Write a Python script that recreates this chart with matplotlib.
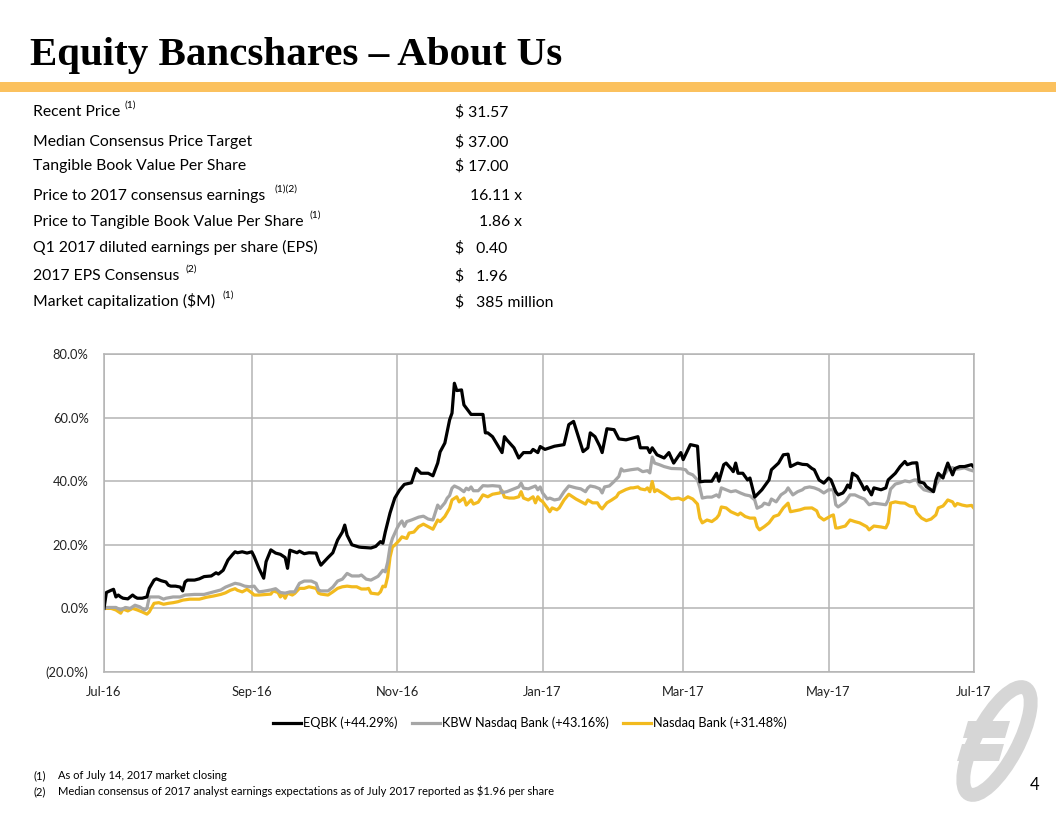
import matplotlib
matplotlib.use("Agg")
import matplotlib.pyplot as plt
import matplotlib.dates as mdates
from matplotlib.patches import Ellipse, Polygon, Rectangle
from matplotlib.lines import Line2D
from matplotlib.ticker import FuncFormatter
import pandas as pd

# ---------------- data ----------------
START = "2016-07-14"
END = "2017-07-14"
tick_dates = ["2016-07-14", "2016-09-14", "2016-11-14", "2017-01-14",
              "2017-03-14", "2017-05-14", "2017-07-14"]
y_ticks = [-20, 0, 20, 40, 60, 80]

# days since START, cumulative return in %
eqbk_day = [0, 1, 3, 4, 5, 6, 7, 8, 10, 12, 13, 14, 16, 18, 19, 21, 22, 24, 26, 27,
            28, 30, 32, 33, 34, 35, 38, 40, 42, 45, 47, 48, 50, 52, 54, 55, 56, 58, 60, 62,
            63, 65, 67, 68, 70, 72, 74, 76, 77, 78, 81, 82, 84, 86, 89, 90, 91, 94, 96, 98,
            100, 101, 102, 104, 107, 108, 112, 114, 116, 117, 118, 120, 122, 124, 126, 129, 131, 133, 136, 138,
            140, 141, 143, 145, 146, 147, 148, 150, 151, 153, 154, 156, 159, 160, 161, 163, 165, 167, 168, 169,
            172, 174, 176, 179, 180, 182, 183, 185, 187, 189, 193, 195, 197, 199, 201, 203, 204, 206, 208, 209,
            211, 214, 216, 219, 222, 224, 225, 228, 229, 230, 232, 235, 237, 239, 242, 243, 246, 249, 250, 252,
            255, 257, 258, 260, 261, 263, 264, 265, 266, 268, 270, 271, 273, 276, 279, 280, 283, 285, 287, 288,
            291, 293, 295, 297, 298, 300, 302, 304, 305, 307, 308, 310, 311, 312, 313, 314, 316, 318, 319, 320,
            322, 323, 326, 328, 329, 332, 334, 336, 337, 339, 341, 342, 344, 345, 347, 348, 349, 350, 352, 353,
            354, 356, 357, 359, 361, 364, 365]
eqbk_pct = [0.0, 5.0, 5.7, 6.0, 3.6, 4.2, 3.6, 3.2, 3.0, 4.2, 3.6, 3.2, 3.2, 3.6, 6.3, 8.9, 9.3, 8.7, 8.3, 7.3,
            7.0, 7.0, 6.7, 5.5, 8.3, 8.9, 8.9, 9.3, 10.0, 10.2, 11.2, 10.8, 12.0, 15.2, 17.0, 17.8, 17.5, 17.8, 17.4, 17.8,
            16.3, 12.6, 9.5, 14.7, 18.4, 17.4, 17.0, 16.0, 12.6, 18.3, 17.5, 18.0, 17.2, 17.5, 17.4, 15.2, 13.6, 16.0, 17.5, 21.5,
            24.0, 26.2, 23.0, 20.0, 19.3, 19.2, 19.0, 19.5, 21.0, 20.5, 24.0, 30.0, 34.7, 37.2, 39.0, 39.5, 44.0, 42.5, 42.5, 41.7,
            45.7, 49.2, 52.0, 59.3, 61.4, 70.8, 68.5, 68.7, 64.0, 62.0, 61.0, 61.0, 61.0, 55.2, 55.2, 54.0, 51.5, 49.0, 54.0, 53.0,
            50.5, 47.3, 49.0, 49.0, 50.0, 49.0, 50.9, 50.0, 50.5, 51.0, 51.5, 57.8, 58.8, 54.0, 49.3, 50.5, 55.2, 54.0, 51.0, 49.0,
            56.5, 56.2, 53.3, 53.0, 53.6, 54.0, 50.5, 50.5, 49.0, 50.5, 48.3, 47.3, 49.0, 45.7, 49.0, 46.8, 51.5, 51.0, 39.8, 40.0,
            40.0, 42.5, 40.0, 45.2, 45.7, 44.0, 43.0, 45.7, 42.5, 42.5, 40.4, 41.0, 35.0, 37.3, 40.4, 43.6, 45.7, 48.3, 48.5, 44.6,
            45.7, 45.3, 45.2, 44.0, 43.6, 40.4, 39.4, 41.0, 40.4, 36.7, 35.7, 36.3, 37.3, 38.8, 37.9, 42.5, 41.5, 38.8, 37.3, 38.3,
            35.7, 37.9, 37.3, 37.9, 40.4, 42.5, 44.6, 46.2, 45.2, 45.7, 45.8, 39.8, 39.4, 38.3, 37.3, 36.7, 40.4, 42.5, 41.0, 43.6,
            45.7, 42.0, 44.0, 44.6, 44.6, 45.2, 44.29]

kbw_day = [0, 1, 5, 7, 9, 11, 13, 15, 17, 18, 19, 21, 23, 25, 26, 29, 32, 34, 38, 42,
           45, 49, 51, 53, 55, 57, 59, 61, 63, 64, 65, 67, 70, 72, 74, 76, 78, 80, 82, 84,
           87, 89, 90, 91, 94, 96, 98, 100, 102, 104, 107, 108, 110, 112, 115, 117, 118, 119, 120, 121,
           123, 124, 125, 126, 127, 129, 132, 134, 136, 138, 140, 141, 143, 144, 145, 146, 147, 149, 151, 152,
           153, 154, 155, 157, 159, 161, 163, 166, 167, 169, 172, 174, 175, 176, 178, 180, 181, 182, 183, 184,
           186, 187, 189, 191, 193, 195, 198, 200, 202, 203, 204, 206, 208, 209, 210, 212, 214, 216, 217, 218,
           221, 224, 226, 228, 229, 230, 231, 233, 235, 238, 242, 244, 245, 247, 249, 250, 251, 253, 255, 257,
           258, 259, 261, 263, 265, 267, 269, 271, 273, 274, 276, 277, 279, 280, 282, 284, 286, 287, 289, 291,
           293, 294, 296, 298, 300, 302, 304, 306, 307, 308, 311, 313, 315, 317, 319, 320, 321, 323, 326, 328,
           329, 330, 332, 334, 336, 338, 340, 341, 342, 344, 347, 348, 349, 351, 353, 354, 356, 357, 359, 361,
           363, 365]
kbw_pct = [0.0, 0.3, 0.3, -0.5, 0.3, 0.0, 1.0, 0.5, -0.5, 0.0, 3.6, 3.6, 3.6, 2.9, 3.2, 3.6, 3.6, 4.2, 4.4, 4.4,
           5.0, 5.8, 6.7, 7.3, 7.9, 7.6, 7.0, 6.8, 7.0, 6.0, 5.2, 5.4, 5.8, 6.2, 5.0, 4.8, 5.2, 5.2, 7.9, 8.6,
           8.6, 7.9, 5.8, 5.5, 5.5, 6.7, 8.6, 9.2, 11.0, 10.2, 10.2, 10.5, 9.2, 8.9, 10.1, 12.0, 11.5, 14.5, 19.4, 22.0,
           25.3, 26.6, 27.5, 25.8, 27.3, 27.8, 28.7, 29.0, 28.1, 27.8, 32.5, 31.4, 33.2, 34.7, 35.5, 37.8, 38.5, 37.8, 36.7, 37.8,
           37.3, 38.2, 37.0, 37.0, 38.6, 38.5, 38.6, 38.4, 36.4, 36.7, 37.6, 38.2, 39.4, 37.8, 37.6, 38.2, 38.5, 37.3, 38.2, 36.3,
           34.4, 34.7, 34.1, 34.4, 36.7, 38.5, 37.9, 37.6, 36.7, 37.9, 38.5, 38.2, 37.6, 36.3, 38.2, 38.5, 39.9, 41.5, 43.9, 43.2,
           43.6, 43.9, 43.0, 43.3, 42.6, 47.6, 45.7, 45.2, 44.6, 44.0, 43.9, 43.6, 42.6, 42.0, 40.4, 37.9, 34.7, 35.0, 35.0, 35.7,
           35.0, 37.9, 37.3, 36.7, 37.0, 36.3, 35.7, 35.4, 34.1, 31.5, 32.2, 33.1, 32.6, 34.4, 33.5, 35.7, 36.7, 37.9, 35.7, 36.7,
           37.3, 37.9, 38.2, 37.9, 37.3, 36.3, 37.3, 37.3, 32.6, 31.9, 33.5, 35.7, 35.7, 35.0, 34.4, 33.5, 32.6, 33.1, 32.8, 32.6,
           34.1, 37.5, 39.1, 39.5, 40.1, 39.8, 40.4, 40.4, 38.8, 37.3, 36.7, 36.8, 38.8, 41.5, 42.5, 43.6, 44.3, 43.7, 43.9, 44.2,
           43.6, 43.16]

nasdaq_day = [0, 1, 3, 5, 7, 8, 10, 12, 14, 16, 18, 19, 21, 23, 25, 27, 29, 31, 33, 36,
              40, 43, 46, 49, 51, 53, 55, 56, 58, 60, 62, 63, 65, 68, 70, 71, 73, 74, 75, 76,
              77, 79, 80, 82, 84, 86, 89, 90, 91, 94, 96, 98, 100, 102, 104, 106, 108, 110, 111, 112,
              115, 116, 117, 118, 119, 120, 121, 122, 124, 125, 127, 128, 130, 132, 134, 136, 138, 140, 141, 143,
              145, 146, 148, 149, 151, 152, 154, 155, 157, 159, 161, 163, 166, 167, 168, 170, 172, 174, 175, 176,
              178, 180, 181, 182, 183, 184, 186, 187, 188, 190, 191, 193, 195, 198, 200, 202, 203, 205, 207, 208,
              209, 211, 213, 215, 216, 219, 221, 222, 224, 225, 227, 228, 229, 230, 231, 232, 235, 238, 241, 243,
              245, 247, 249, 250, 251, 253, 255, 257, 258, 259, 261, 263, 266, 267, 269, 271, 273, 274, 275, 277,
              279, 281, 283, 285, 287, 288, 290, 292, 294, 297, 299, 300, 302, 305, 306, 307, 308, 311, 313, 315,
              317, 320, 321, 323, 326, 328, 329, 330, 332, 334, 336, 338, 340, 341, 343, 345, 347, 349, 350, 352,
              353, 354, 356, 357, 358, 360, 362, 364, 365]
nasdaq_pct = [0.0, 0.0, 0.0, -0.5, -1.5, -0.2, -0.8, 0.0, -0.5, -1.1, -1.8, -1.1, 1.6, 1.8, 1.3, 1.6, 1.8, 2.1, 2.6, 2.9,
              2.9, 3.5, 3.9, 4.4, 4.9, 5.7, 6.2, 5.7, 5.2, 6.0, 4.9, 4.2, 4.2, 4.4, 4.5, 5.5, 5.0, 3.6, 4.5, 3.2,
              4.8, 4.2, 4.7, 6.3, 6.3, 6.8, 6.3, 4.8, 4.5, 4.2, 5.2, 6.3, 6.8, 7.0, 6.8, 6.8, 6.1, 6.1, 6.3, 4.8,
              4.5, 5.2, 7.0, 6.8, 9.9, 16.1, 19.3, 19.9, 21.5, 22.5, 22.0, 23.7, 24.0, 25.7, 26.5, 25.7, 24.9, 27.8, 27.3, 28.9,
              31.5, 34.1, 35.1, 33.5, 34.7, 32.5, 34.1, 32.8, 33.4, 35.7, 35.1, 35.9, 36.3, 37.0, 35.0, 34.7, 34.7, 35.1, 36.7, 34.7,
              34.1, 35.1, 33.2, 35.1, 34.1, 33.6, 31.6, 30.4, 31.6, 31.0, 31.6, 34.1, 35.9, 34.4, 33.6, 32.8, 34.1, 33.2, 33.2, 32.0,
              31.3, 33.2, 34.1, 35.1, 36.3, 37.4, 37.9, 37.9, 38.2, 37.6, 37.3, 37.9, 36.7, 39.9, 36.7, 37.3, 35.9, 34.4, 34.7, 34.1,
              35.1, 34.4, 32.8, 28.4, 26.9, 27.8, 27.3, 28.4, 29.4, 31.9, 31.6, 30.4, 29.4, 30.0, 28.9, 28.4, 28.4, 25.7, 24.7, 25.7,
              26.9, 28.9, 29.4, 31.6, 33.1, 30.4, 30.7, 31.0, 31.5, 31.6, 30.7, 28.9, 27.8, 29.1, 29.4, 25.3, 25.3, 25.9, 27.8, 27.3,
              26.9, 25.7, 24.7, 25.9, 25.6, 25.3, 26.9, 33.1, 33.5, 33.2, 33.1, 32.2, 31.9, 30.0, 28.4, 27.6, 28.1, 29.4, 31.6, 32.2,
              33.1, 34.1, 33.5, 32.2, 33.0, 32.5, 32.2, 32.4, 31.48]

series_labels = ["EQBK (+44.29%)", "KBW Nasdaq Bank (+43.16%)", "Nasdaq Bank (+31.48%)"]

title_text = "Equity Bancshares \u2013 About Us"
table_labels = ["Recent Price", "Median Consensus Price Target", "Tangible Book Value Per Share",
                "Price to 2017 consensus earnings", "Price to Tangible Book Value Per Share",
                "Q1 2017 diluted earnings per share (EPS)", "2017 EPS Consensus",
                "Market capitalization ($M)"]
table_notes = ["(1)", "", "", "(1)(2)", "(1)", "", "(2)", "(1)"]
table_values = ["$ 31.57", "$ 37.00", "$ 17.00", "16.11 x", "1.86 x", "$   0.40", "$   1.96", "$   385 million"]
footnotes = [("(1)", "As of July 14, 2017 market closing"),
             ("(2)", "Median consensus of 2017 analyst earnings expectations as of July 2017 reported as $1.96 per share")]
page_number = "4"

# ---------------- figure ----------------
W, H = 1056, 816
fig = plt.figure(figsize=(W / 100, H / 100), dpi=100)
fig.patch.set_facecolor("white")
SANS = ["Lato", "DejaVu Sans"]

ov = fig.add_axes([0, 0, 1, 1], zorder=0)
ov.set_xlim(0, W)
ov.set_ylim(H, 0)
ov.axis("off")

# title + band
ov.text(30, 65, title_text, fontsize=29.5, fontweight="bold", family="Liberation Serif",
        va="baseline", ha="left", color="black")
ov.add_patch(Rectangle((0, 82), W, 10, facecolor="#FBC15E", edgecolor="none"))

# table
row_base = [116, 146, 170, 200, 226, 252, 280, 306]
note_gap = [4, 0, 0, 9, 6, 0, 6, 7]
value_x = [455, 455, 455, 470, 479, 455, 455, 455]
label_artists = []
for lab, val, yb, vx in zip(table_labels, table_values, row_base, value_x):
    t = ov.text(33, yb, lab, fontsize=11.3, family=SANS, va="baseline", ha="left")
    label_artists.append(t)
    ov.text(vx, yb, val, fontsize=11.3, family=SANS, va="baseline", ha="left")

fig.canvas.draw()
renderer = fig.canvas.get_renderer()
for t, note, gap, yb in zip(label_artists, table_notes, note_gap, row_base):
    if note:
        bb = t.get_window_extent(renderer)
        x_end = ov.transData.inverted().transform((bb.x1, bb.y0))[0]
        ov.text(x_end + gap, yb - 8, note, fontsize=7.5, family=SANS, va="baseline", ha="left")

# footnotes
for i, (num, txt) in enumerate(footnotes):
    yb = 779 + 16 * i
    ov.text(33, yb, num, fontsize=8, family=SANS, va="baseline", ha="left")
    ov.text(58, yb, txt, fontsize=8, family=SANS, va="baseline", ha="left")
ov.text(1030, 790, page_number, fontsize=12, family=SANS, va="baseline", ha="left")

# logo (stylised mark)
logo_c = "#D6D6D6"
ov.add_patch(Ellipse((997, 741), 120, 42, angle=-62, facecolor="none", edgecolor=logo_c, linewidth=10))
ov.add_patch(Polygon([(968, 721), (1010, 721), (1005, 738), (963, 738)], closed=True,
                     facecolor=logo_c, edgecolor="none"))
ov.add_patch(Polygon([(962, 744), (1004, 744), (999, 761), (957, 761)], closed=True,
                     facecolor=logo_c, edgecolor="none"))

# ---------------- chart ----------------
ax = fig.add_axes([104 / W, 1 - 672 / H, 870 / W, 318 / H], zorder=2)
ax.patch.set_alpha(0)
start = pd.Timestamp(START)
colors = ["#000000", "#A6A6A6", "#F2BA1E"]
for days, vals, col, lab in [(eqbk_day, eqbk_pct, colors[0], series_labels[0]),
                             (kbw_day, kbw_pct, colors[1], series_labels[1]),
                             (nasdaq_day, nasdaq_pct, colors[2], series_labels[2])][::-1]:
    d = start + pd.to_timedelta(days, unit="D")
    ax.plot(d, vals, color=col, linewidth=2.3, solid_joinstyle="round", label=lab)

ax.set_xlim(pd.Timestamp(START), pd.Timestamp(END))
ax.set_ylim(-20, 80)
ax.set_yticks(y_ticks)
ax.set_xticks([pd.Timestamp(t) for t in tick_dates])
ax.xaxis.set_major_formatter(mdates.DateFormatter("%b-%y"))


def pct_fmt(v, pos):
    return f"({abs(v):.1f}%)" if v < 0 else f"{v:.1f}%"


ax.yaxis.set_major_formatter(FuncFormatter(pct_fmt))
grid_c = "#B4B4B4"
ax.grid(True, color=grid_c, linewidth=1.1)
ax.set_axisbelow(True)
for s in ax.spines.values():
    s.set_color(grid_c)
    s.set_linewidth(1.1)
ax.tick_params(length=0, labelsize=9.3, colors="#222222", pad=11)
ax.tick_params(axis="x", pad=10)
for lbl in ax.get_xticklabels() + ax.get_yticklabels():
    lbl.set_family(SANS)

handles = [Line2D([], [], color=c, linewidth=2.3) for c in colors]
fig.legend(handles, series_labels, loc="center", bbox_to_anchor=(530 / W, 1 - 723 / H), ncol=3,
           frameon=False, handlelength=2.2, handletextpad=0.15, columnspacing=1.1,
           prop={"family": SANS, "size": 9.2})

fig.savefig("out.png", dpi=100, facecolor="white")
